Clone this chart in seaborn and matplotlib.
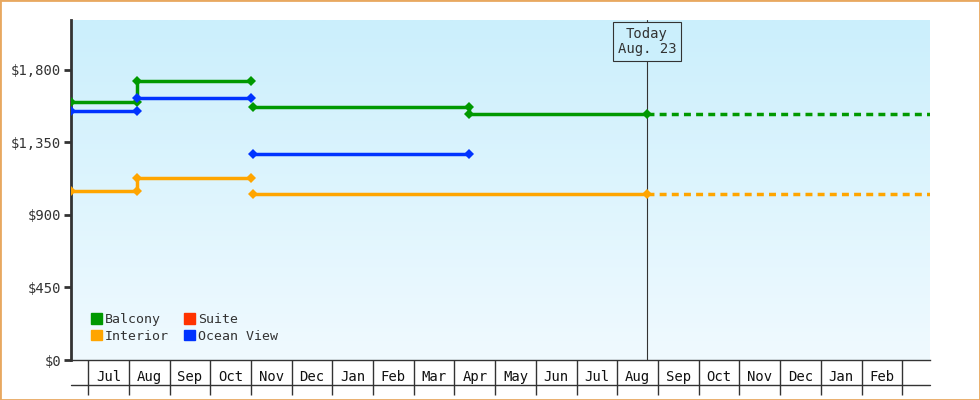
import matplotlib
matplotlib.use("Agg")
import matplotlib.pyplot as plt
from matplotlib.colors import LinearSegmentedColormap
from matplotlib.patches import Patch
import numpy as np
import pandas as pd
import seaborn as sns

# x in months since Jul 1 of first year
MONTHS = ["Jul", "Aug", "Sep", "Oct", "Nov", "Dec", "Jan", "Feb", "Mar", "Apr",
          "May", "Jun", "Jul", "Aug", "Sep", "Oct", "Nov", "Dec", "Jan", "Feb"]
TODAY = 13.73

# connected runs per series
balcony_x = [[-0.42, 1.2, 1.2, 4.0], [4.05, 9.36, 9.36, TODAY]]
balcony_y = [[1601, 1601, 1732, 1732], [1570, 1570, 1527, 1527]]
ocean_x = [[-0.42, 1.2], [1.2, 4.0], [4.05, 9.36]]
ocean_y = [[1546, 1546], [1626, 1626], [1279, 1279]]
interior_x = [[-0.42, 1.2, 1.2, 4.0], [4.05, TODAY]]
interior_y = [[1049, 1049, 1130, 1130], [1030, 1030]]
forecast_end = 20.68

COLORS = {"Balcony": "#009900", "Suite": "#ff3300", "Interior": "#ffa500",
          "Ocean View": "#0033ff"}

rows = []
g = 0
for name, xs, ys in [("Balcony", balcony_x, balcony_y),
                     ("Ocean View", ocean_x, ocean_y),
                     ("Interior", interior_x, interior_y)]:
    for xr, yr in zip(xs, ys):
        for x, y in zip(xr, yr):
            rows.append({"series": name, "group": g, "x": x, "price": y})
        g += 1
df = pd.DataFrame(rows)

sns.set_style("white")
plt.rcParams["font.family"] = ["DejaVu Sans Mono"]

fig = plt.figure(figsize=(9.8, 4.0), dpi=100)
ax = fig.add_axes([71 / 980, 40 / 400, 859 / 980, 340 / 400])
xmin, xmax = -0.42, 20.68
ymin, ymax = 0, 2110
ax.set_xlim(xmin, xmax)
ax.set_ylim(ymin, ymax)

# gradient background
grad = np.linspace(0, 1, 256).reshape(-1, 1)
cmap = LinearSegmentedColormap.from_list("bg", ["#f0faff", "#cbeffc"])
ax.imshow(grad, aspect="auto", cmap=cmap, origin="lower",
          extent=[xmin, xmax, ymin, ymax], zorder=0)

sns.lineplot(data=df, x="x", y="price", hue="series", units="group",
             estimator=None, sort=False, palette=COLORS, marker="D",
             markersize=5, markeredgewidth=0, linewidth=2.5, ax=ax,
             legend=False, zorder=3)

# forecast dashed
for name, y in [("Balcony", balcony_y[-1][-1]), ("Interior", interior_y[-1][-1])]:
    ax.plot([TODAY, forecast_end], [y, y], ls=(0, (2, 1.5)), lw=2.5,
            color=COLORS[name], zorder=3)

# today marker
ax.axvline(TODAY, color="#333333", lw=0.8, zorder=2)
ax.text(TODAY, 1975, "Today\nAug. 23", ha="center", va="center", fontsize=10,
        color="#333333", zorder=4, linespacing=1.1,
        bbox=dict(boxstyle="square,pad=0.35", fc="#cbeffc", ec="#333333", lw=0.8))

# y axis
yt = [0, 450, 900, 1350, 1800]
ax.set_yticks(yt)
ax.set_yticklabels([f"${v:,}" for v in yt], fontsize=10, color="#333333")
ax.tick_params(axis="y", left=True, length=5, width=2, color="#333333", pad=2)

# x axis: month cells
ax.set_xticks(np.arange(len(MONTHS)) + 0.5)
ax.set_xticklabels(MONTHS, fontsize=10, color="#111111")
ax.set_xticks(np.arange(len(MONTHS) + 1), minor=True)
ax.tick_params(axis="x", which="major", bottom=True, length=0, pad=7)
ax.tick_params(axis="x", which="minor", bottom=True, length=25, width=1,
               color="#333333", direction="out")
ax.plot([0, 1], [-25 / 340, -25 / 340], transform=ax.transAxes,
        color="#333333", lw=1, clip_on=False)

for s in ["top", "right"]:
    ax.spines[s].set_visible(False)
ax.spines["left"].set_linewidth(2)
ax.spines["left"].set_color("#333333")
ax.spines["bottom"].set_linewidth(1)
ax.spines["bottom"].set_color("#333333")
ax.set_xlabel("")
ax.set_ylabel("")

# legend
handles = [Patch(color=COLORS[k], label=k)
           for k in ["Balcony", "Interior", "Suite", "Ocean View"]]
leg = ax.legend(handles=handles, ncol=2, loc="lower left", frameon=False,
                bbox_to_anchor=(0.01, 0.015), fontsize=9.5, handlelength=0.8,
                handleheight=0.8, handletextpad=0.2, columnspacing=1.2,
                labelspacing=0.3)
for t in leg.get_texts():
    t.set_color("#333333")

# orange border
fig.patches.append(plt.Rectangle((0, 0), 1, 1, transform=fig.transFigure,
                                 fill=False, ec="#e8a860", lw=2))

fig.savefig("out.png", dpi=100)
